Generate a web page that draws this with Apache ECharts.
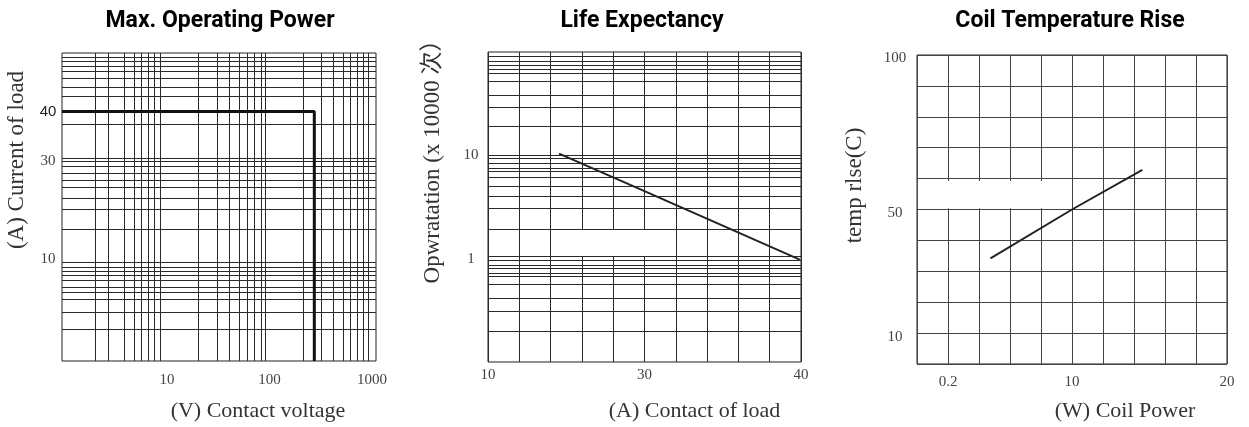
<!DOCTYPE html>
<html><head><meta charset="utf-8">
<script src="https://cdn.jsdelivr.net/npm/echarts@6/dist/echarts.min.js"></script>
<style>html,body{margin:0;padding:0;background:#fff}#c{width:1249px;height:427px}</style>
</head><body><div id="c"></div>
<script>
// ---------- titles ----------
const titles = ['Max. Operating Power', 'Life Expectancy', 'Coil Temperature Rise'];

// ---------- panel 1: Max. Operating Power ----------
const p1XName = '(V) Contact voltage';
const p1YName = '(A) Current of load';
const p1XTicks = [10, 100, 1000];
const p1YTicks = [10, 30, 40];
const p1XGrid = [2.0, 2.7, 3.8, 4.8, 5.6, 6.6, 7.6, 8.7, 20, 30.7, 41, 51, 61, 71, 83, 92, 212, 317, 421, 526, 612, 711, 825, 922];
const p1YGrid = [51.0, 50.2, 49.2, 48.2, 46.8, 45.0, 43.1, 37.4, 30.6, 29.8, 28.8, 27.4, 26.1, 24.7, 22.5, 20.2, 16.2, 9.5, 8.5, 7.5, 6.7, 5.7, 4.3, 3.3, 2.0, -0.7, -4.2];
const p1XRange = [0.948, 1095];
const p1YRange = [-10.6, 51.85];
const p1Limit = [[0.948, 40], [274, 40], [274, -10.6]];

// ---------- panel 2: Life Expectancy ----------
const p2XName = '(A) Contact of load';
const p2YName = 'Opwratation (x 10000 次）';
const p2XLabels = ['10', '', '', '', '', '30', '', '', '', '', '40'];
const p2YTicks = [1, 10];
const p2YRange = [0.1, 100];
const p2YGrid = [90, 81, 74, 68, 62, 52, 38, 29, 19, 10.1, 9.3, 8.4, 7.5, 7.0, 6.1, 5.0, 4.0, 3.1, 1.94, 1.05, 0.96, 0.86, 0.80, 0.73, 0.67, 0.56, 0.41, 0.31, 0.20];
const p2Life = [[2.27, 10.4], [5, 4.5], [9.96, 0.98]];
const p2Blank = [[2.08, 1.06], [5.9, 1.92]];

// ---------- panel 3: Coil Temperature Rise ----------
const p3XName = '(W) Coil Power';
const p3YName = 'temp rlse(C)';
const p3XLabels = ['', '0.2', '', '', '', '10', '', '', '', '', '20'];
const p3YLabels = ['', '10', '', '', '', '50', '', '', '', '', '100'];
const p3Rise = [[2.37, 3.42], [5, 5], [7.27, 6.28]];
const p3Blank = [[0.03, 5.04], [4.05, 5.92]];

// ---------- styles ----------
const SERIF = "'Liberation Serif', 'Noto Sans CJK SC', serif";
const GRIDC = '#2a2a2a';
const labelStyle = { fontFamily: SERIF, fontSize: 15, color: '#444' };
const nameStyle = (size, pad) => ({ fontFamily: SERIF, fontSize: size, color: '#333', padding: pad });
const near = (list, v) => list.some(t => Math.abs(t - v) / Math.abs(t) < 1e-6);
const gridLineMark = (data) => ({
  silent: true, symbol: ['none', 'none'], animation: false,
  label: { show: false }, emphasis: { disabled: true },
  lineStyle: { color: GRIDC, width: 1, type: 'solid', opacity: 1 },
  data: data
});
const blankArea = (r) => ({
  silent: true, itemStyle: { color: '#ffffff', opacity: 1 },
  label: { show: false }, emphasis: { disabled: true },
  data: [[{ coord: r[0] }, { coord: r[1] }]]
});
const hideAxisBits = { axisLine: { show: false }, axisTick: { show: false } };

const gridBase = { show: true, borderColor: '#222', borderWidth: 1, containLabel: false };

const option = {
  animation: false,
  backgroundColor: '#ffffff',
  title: [
    { text: titles[0], left: 215, top: 5, textAlign: 'center' },
    { text: titles[1], left: 637, top: 5, textAlign: 'center' },
    { text: titles[2], left: 1065, top: 5, textAlign: 'center' }
  ].map(t => Object.assign(t, { textStyle: { fontFamily: "'Liberation Sans Narrow', 'Roboto', sans-serif", fontWeight: 'bold', fontSize: 23, color: '#000' } })),
  grid: [
    Object.assign({ left: 62, top: 53, width: 314, height: 311 }, gridBase),
    Object.assign({ left: 488, top: 52, width: 313, height: 312 }, gridBase),
    Object.assign({ left: 917, top: 55, width: 310, height: 312 }, gridBase)
  ],
  xAxis: [
    Object.assign({
      gridIndex: 0, type: 'log', logBase: 10, min: p1XRange[0], max: p1XRange[1],
      name: p1XName, nameLocation: 'middle', nameGap: 39, nameTextStyle: nameStyle(22, [0, 0, 0, 78]),
      splitLine: { show: false },
      axisLabel: Object.assign({ margin: 12, formatter: v => near(p1XTicks, v) ? String(Math.round(v)) : '' }, labelStyle)
    }, hideAxisBits),
    Object.assign({
      gridIndex: 1, type: 'value', min: 0, max: 10, interval: 1,
      name: p2XName, nameLocation: 'middle', nameGap: 38, nameTextStyle: nameStyle(22, [0, 0, 0, 100]),
      splitLine: { show: true, lineStyle: { color: GRIDC, width: 1 } },
      axisLabel: Object.assign({ margin: 6, formatter: v => p2XLabels[Math.round(v)] || '' }, labelStyle)
    }, hideAxisBits),
    Object.assign({
      gridIndex: 2, type: 'value', min: 0, max: 10, interval: 1,
      name: p3XName, nameLocation: 'middle', nameGap: 36, nameTextStyle: nameStyle(22, [0, 0, 0, 106]),
      splitLine: { show: true, lineStyle: { color: '#444', width: 1 } },
      axisLabel: Object.assign({ margin: 11, formatter: v => p3XLabels[Math.round(v)] || '' }, labelStyle)
    }, hideAxisBits)
  ],
  yAxis: [
    Object.assign({
      gridIndex: 0, type: 'value', min: p1YRange[0], max: p1YRange[1],
      name: p1YName, nameLocation: 'middle', nameGap: 34, nameTextStyle: nameStyle(23, [0, 0, 0, 94]),
      splitLine: { show: false },
      axisLabel: Object.assign({
        margin: 14, align: 'center', customValues: p1YTicks,
        formatter: v => Math.round(v) === 40 ? '{s|40}' : String(Math.round(v)),
        rich: { s: { fontFamily: "'Liberation Sans', sans-serif", fontSize: 15, color: '#222' } }
      }, labelStyle)
    }, hideAxisBits),
    Object.assign({
      gridIndex: 1, type: 'log', logBase: 10, min: p2YRange[0], max: p2YRange[1],
      name: p2YName, nameLocation: 'middle', nameGap: 44, nameTextStyle: nameStyle(23, [0, 0, 0, 102]),
      splitLine: { show: false },
      axisLabel: Object.assign({ margin: 17, align: 'center', formatter: v => near(p2YTicks, v) ? String(Math.round(v)) : '' }, labelStyle)
    }, hideAxisBits),
    Object.assign({
      gridIndex: 2, type: 'value', min: 0, max: 10, interval: 1,
      name: p3YName, nameLocation: 'middle', nameGap: 51, nameTextStyle: nameStyle(23, [0, 0, 0, 48]),
      splitLine: { show: true, lineStyle: { color: '#444', width: 1 } },
      axisLabel: Object.assign({ margin: 22, align: 'center', verticalAlign: 'top', lineHeight: 7, formatter: v => p3YLabels[Math.round(v)] || '' }, labelStyle)
    }, hideAxisBits)
  ],
  series: [
    { type: 'line', xAxisIndex: 0, yAxisIndex: 0, data: [], z: 1, silent: true,
      markLine: gridLineMark([...p1XGrid.map(v => ({ xAxis: v })), ...p1YGrid.map(v => ({ yAxis: v }))]) },
    { type: 'line', xAxisIndex: 0, yAxisIndex: 0, data: p1Limit, z: 5, symbol: 'none', silent: true,
      lineStyle: { color: '#111', width: 3 } },

    { type: 'line', xAxisIndex: 1, yAxisIndex: 1, data: [], z: 1, silent: true,
      markLine: gridLineMark(p2YGrid.map(v => ({ yAxis: v }))) },
    { type: 'line', xAxisIndex: 1, yAxisIndex: 1, data: [], z: 3, silent: true, markArea: blankArea(p2Blank) },
    { type: 'line', xAxisIndex: 1, yAxisIndex: 1, data: p2Life, z: 5, symbol: 'none', silent: true,
      lineStyle: { color: '#222', width: 2 } },

    { type: 'line', xAxisIndex: 2, yAxisIndex: 2, data: [], z: 3, silent: true, markArea: blankArea(p3Blank) },
    { type: 'line', xAxisIndex: 2, yAxisIndex: 2, data: p3Rise, z: 5, symbol: 'none', silent: true,
      lineStyle: { color: '#222', width: 2 } }
  ]
};
const chart = echarts.init(document.getElementById('c'), null, { renderer: 'canvas' });
chart.setOption(option);
</script></body></html>
